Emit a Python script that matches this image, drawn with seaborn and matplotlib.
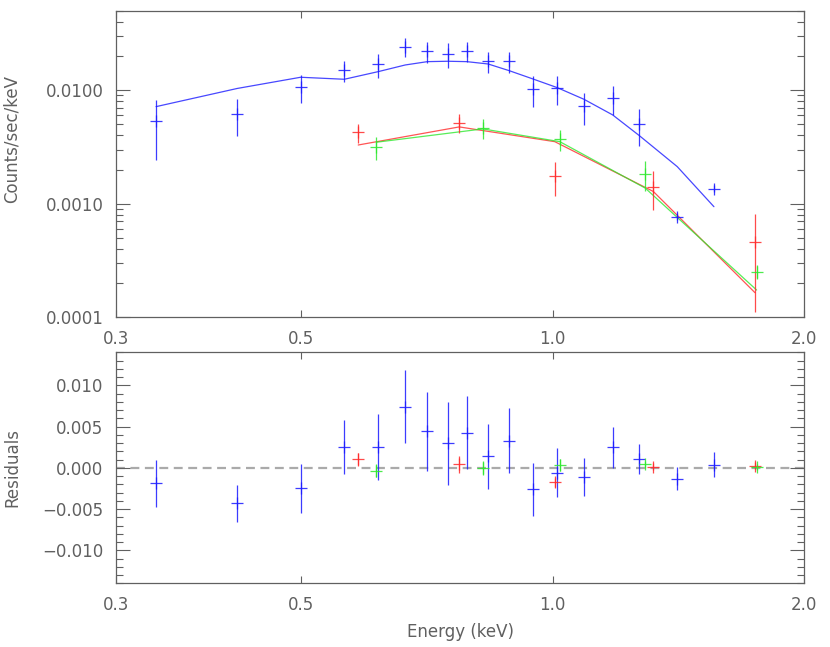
"""
X-ray spectrum with model fit and residuals
"""

import matplotlib
matplotlib.use("Agg")
import matplotlib.pyplot as plt
import pandas as pd
import seaborn as sns
from matplotlib.ticker import (FixedLocator, FormatStrFormatter, FuncFormatter,
                               LogLocator, MultipleLocator, NullFormatter,
                               NullLocator)

# blue data set (18 bins)
blue_energy = [0.335, 0.419, 0.499, 0.563, 0.618, 0.666, 0.708, 0.749, 0.789,
               0.837, 0.887, 0.947, 1.013, 1.09, 1.18, 1.27, 1.41, 1.56]
blue_counts = [0.00533, 0.00618, 0.01063, 0.0150, 0.0169, 0.02425, 0.02207,
               0.0209, 0.02207, 0.01813, 0.01813, 0.01027, 0.01041, 0.00723,
               0.0085, 0.00504, 0.00077, 0.00136]
blue_err = [0.00288, 0.00225, 0.00298, 0.00324, 0.0040, 0.00448, 0.00477,
            0.00508, 0.00443, 0.0038, 0.0038, 0.00317, 0.00295, 0.0023,
            0.0025, 0.0018, 0.00005, 0.0001]
blue_model = [0.00717, 0.01037, 0.01302, 0.0125, 0.01459, 0.01671, 0.01788,
              0.01802, 0.01788, 0.01705, 0.01489, 0.01258, 0.01054, 0.00833,
              0.00606, 0.00398, 0.00212, 0.00094]
blue_resid = [-0.0019, -0.00428, -0.00251, 0.00255, 0.00251, 0.00741, 0.0044,
              0.00299, 0.00424, 0.00139, 0.00328, -0.00259, -0.00058, -0.00114,
              0.00247, 0.00102, -0.0013, 0.00039]
blue_resid_err = [0.00285, 0.00225, 0.00298, 0.00325, 0.00402, 0.00446, 0.00484,
                  0.00502, 0.00443, 0.00392, 0.00393, 0.00322, 0.00295, 0.00231,
                  0.00249, 0.00183, 0.00141, 0.00149]

# red data set
red_energy = [0.585, 0.773, 1.006, 1.32, 1.747]
red_counts = [0.00426, 0.00518, 0.00175, 0.00141, 0.00046]
red_err = [0.00083, 0.0010, 0.00059, 0.00054, 0.00035]
red_model = [0.00329, 0.00475, 0.00352, 0.00128, 0.000164]
red_resid = [0.00102, 0.00042, -0.00178, 0.0001, 0.00027]
red_resid_err = [0.00083, 0.00102, 0.00058, 0.00042, 0.00044]

# green data set
green_energy = [0.615, 0.825, 1.02, 1.291, 1.755]
green_counts = [0.00316, 0.00462, 0.0037, 0.00183, 0.000251]
green_err = [0.00071, 0.00091, 0.00078, 0.00053, 0.000034]
green_model = [0.00348, 0.00456, 0.00352, 0.00137, 0.000173]
green_resid = [-0.00034, -0.00002, 0.0003, 0.00042, 0.00006]
green_resid_err = [0.0008, 0.00084, 0.00075, 0.00042, 0.00036]

x_ticks = [0.3, 0.5, 1.0, 2.0]

BLUE = "#1a1aff"
RED = "#ff2a2a"
GREEN = "#2ee82e"
GREY = "#606060"


def minus_fmt(value, pos):
    if abs(value) < 1e-9:
        value = 0.0
    return f"{value:.3f}".replace("-", "\u2212")


def style_axes(ax):
    ax.set_xscale("log")
    ax.set_xlim(0.3, 2.0)
    ax.xaxis.set_major_locator(FixedLocator(x_ticks))
    ax.xaxis.set_major_formatter(FormatStrFormatter("%.1f"))
    ax.xaxis.set_minor_locator(NullLocator())
    ax.tick_params(axis="x", which="major", direction="in", length=5,
                   width=0.8, top=True, colors=GREY, labelsize=12, pad=9)
    ax.tick_params(axis="y", which="major", direction="in", length=10,
                   width=0.8, right=True, colors=GREY, labelsize=12, pad=9)
    ax.tick_params(axis="y", which="minor", direction="in", length=5,
                   width=0.8, right=True, colors=GREY)
    for spine in ax.spines.values():
        spine.set_visible(True)
        spine.set_color(GREY)
        spine.set_linewidth(0.9)


sns.set_style("ticks")
plt.rcParams["font.family"] = ["DejaVu Sans"]

fig = plt.figure(figsize=(8.3, 6.47), dpi=100)
ax_top = fig.add_axes([0.1398, 0.510, 0.8289, 0.473])
ax_bot = fig.add_axes([0.1398, 0.0985, 0.8289, 0.357])

sets = [
    ("blue", blue_energy, blue_counts, blue_err, blue_model, blue_resid, blue_resid_err, BLUE),
    ("red", red_energy, red_counts, red_err, red_model, red_resid, red_resid_err, RED),
    ("green", green_energy, green_counts, green_err, green_model, green_resid, green_resid_err, GREEN),
]

models = pd.concat([
    pd.DataFrame({"energy": e, "model": m, "set": name})
    for name, e, _, _, m, _, _, _ in sets
])

# model curves
sns.lineplot(data=models, x="energy", y="model", hue="set",
             palette={"blue": BLUE, "red": RED, "green": GREEN},
             estimator=None, sort=True, linewidth=0.9, alpha=0.8,
             legend=False, ax=ax_top)

# data crosses and residuals
for name, e, c, err, m, r, rerr, color in sets:
    ax_top.errorbar(e, c, yerr=err, fmt="+", color=color, ms=9, mew=0.9,
                    elinewidth=0.9, capsize=0, alpha=0.85)
    ax_bot.errorbar(e, r, yerr=rerr, fmt="+", color=color, ms=9, mew=0.9,
                    elinewidth=0.9, capsize=0, alpha=0.85)

# zero line across the full energy range
ax_bot.plot(x_ticks[::3], [0.0, 0.0], color="#aaaaaa", linewidth=1.6,
            linestyle=(0, (4, 2.5)), zorder=0)

style_axes(ax_top)
ax_top.set_yscale("log")
ax_top.set_ylim(1e-4, 0.05)
ax_top.yaxis.set_major_locator(FixedLocator([1e-4, 1e-3, 1e-2]))
ax_top.yaxis.set_major_formatter(FormatStrFormatter("%.4f"))
ax_top.yaxis.set_minor_locator(LogLocator(base=10, subs=range(2, 10)))
ax_top.yaxis.set_minor_formatter(NullFormatter())
ax_top.set_xlabel("")
ax_top.set_ylabel("Counts/sec/keV", fontsize=12, color=GREY)
ax_top.yaxis.set_label_coords(-0.138, 0.583)

style_axes(ax_bot)
ax_bot.set_ylim(-0.014, 0.014)
ax_bot.yaxis.set_major_locator(MultipleLocator(0.005))
ax_bot.yaxis.set_minor_locator(MultipleLocator(0.001))
ax_bot.yaxis.set_major_formatter(FuncFormatter(minus_fmt))
ax_bot.set_ylabel("Residuals", fontsize=12, color=GREY)
ax_bot.yaxis.set_label_coords(-0.138, 0.5)
ax_bot.set_xlabel("Energy (keV)", fontsize=12, color=GREY)
ax_bot.xaxis.set_label_coords(0.5, -0.17)

fig.savefig("out.png", dpi=100, facecolor="white")
